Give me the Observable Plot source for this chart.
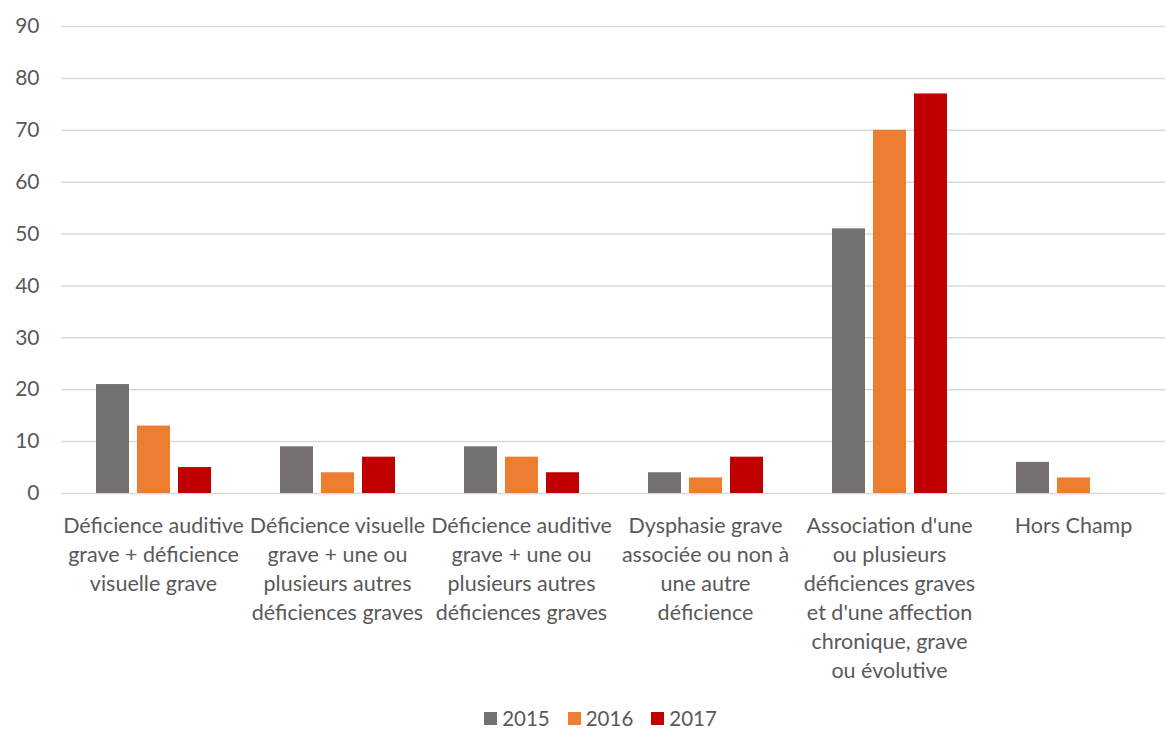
<!DOCTYPE html>
<html>
<head>
<meta charset="utf-8">
<script src="https://cdn.jsdelivr.net/npm/d3@7"></script>
<script src="https://cdn.jsdelivr.net/npm/@observablehq/plot@0.6"></script>
<style>
  body { margin: 0; background: #fff; font-family: Lato, "Open Sans", sans-serif; overflow: hidden; }
  #legend { display: flex; justify-content: center; align-items: center; font-size: 20.5px; line-height: 22px; color: #595959; margin-top: 17px; padding-left: 36px; }
  .item { display: flex; align-items: center; margin: 0 9px; }
  .sw { width: 13px; height: 13px; margin-right: 5px; }
</style>
</head>
<body>
<div id="chart"></div>
<div id="legend"></div>
<script>
const categories = ["C1", "C2", "C3", "C4", "C5", "C6"];
const labels = [
  "Déficience auditive\ngrave + déficience\nvisuelle grave",
  "Déficience visuelle\ngrave + une ou\nplusieurs autres\ndéficiences graves",
  "Déficience auditive\ngrave + une ou\nplusieurs autres\ndéficiences graves",
  "Dysphasie grave\nassociée ou non à\nune autre\ndéficience",
  "Association d'une\nou plusieurs\ndéficiences graves\net d'une affection\nchronique, grave\nou évolutive",
  "Hors Champ"
];
const years = ["2015", "2016", "2017"];
const values2015 = [21, 9, 9, 4, 51, 6];
const values2016 = [13, 4, 7, 3, 70, 3];
const values2017 = [5, 7, 4, 7, 77, null];
const colors = ["#767171", "#ED7D31", "#C00000"];
const yTicks = [0, 10, 20, 30, 40, 50, 60, 70, 80, 90];

const series = [values2015, values2016, values2017];
const data = categories.flatMap((c, i) =>
  years.map((y, j) => ({cat: c, year: y, value: series[j][i]}))
).filter(d => d.value != null);

const chart = Plot.plot({
  width: 1165,
  height: 690,
  marginTop: 26,
  marginLeft: 60,
  marginRight: 0,
  marginBottom: 197,
  style: {fontFamily: "Lato, 'Open Sans', sans-serif", color: "#595959", background: "#fff"},
  fx: {domain: categories, padding: 0, label: null, axis: null},
  x: {domain: years, axis: null, paddingInner: 0.2, paddingOuter: 0.82},
  y: {domain: [0, 90], label: null},
  color: {domain: years, range: colors},
  marks: [
    Plot.gridY(yTicks, {stroke: "#d9d9d9", strokeOpacity: 1, strokeWidth: 1.5}),
    Plot.axisY(yTicks, {tickSize: 0, tickPadding: 22, fontSize: 21, label: null}),
    Plot.barY(data, {fx: "cat", x: "year", y: "value", fill: "year"}),
    Plot.axisFx({
      anchor: "bottom",
      tickSize: 0, tickPadding: 19, fontSize: 21.5, lineHeight: 1.35, label: null,
      tickFormat: d => labels[categories.indexOf(d)]
    })
  ]
});
document.getElementById("chart").append(chart);

const legend = document.getElementById("legend");
years.forEach((y, i) => {
  const item = document.createElement("div");
  item.className = "item";
  const sw = document.createElement("div");
  sw.className = "sw";
  sw.style.background = colors[i];
  const t = document.createElement("span");
  t.textContent = y;
  item.append(sw, t);
  legend.append(item);
});
</script>
</body>
</html>
